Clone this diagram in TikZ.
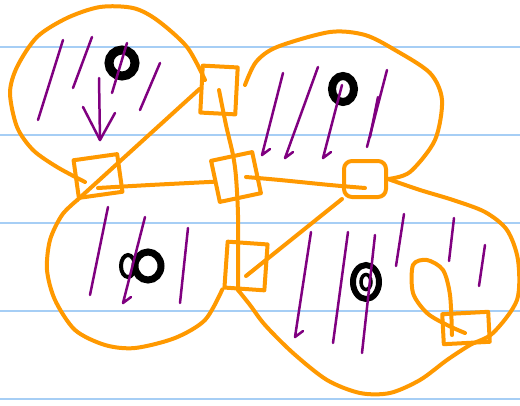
\documentclass[tikz,border=0pt]{standalone}
\usetikzlibrary{positioning}
\definecolor{oranye}{RGB}{255,153,0}
\definecolor{ungu}{RGB}{128,0,128}
\definecolor{garis}{RGB}{166,206,245}
\tikzset{
  blob/.style={draw=oranye, line width=4pt, line cap=round, line join=round},
  sepbox/.style={draw=oranye, line width=4pt, inner sep=0pt, line join=round},
  hatch/.style={draw=ungu, line width=2.5pt, line cap=round, line join=round},
  ring/.style={draw=black, line width=#1},
}
\begin{document}
\begin{tikzpicture}[x=1pt, y=-1pt]
  \useasboundingbox (0,0) rectangle (520,405);
  \fill[white] (0,0) rectangle (520,405);
  % ruled paper
  \foreach \y in {47,135,223,311,399}
    \draw[garis, line width=2pt] (0,\y) -- (520,\y);
  % separator boxes
  \node[sepbox, minimum width=35pt, minimum height=47pt, rotate=-3] (sqTop) at (219,90) {};
  \node[sepbox, minimum width=44pt, minimum height=38pt, rotate=8] (sqLeft) at (98,176) {};
  \node[sepbox, minimum width=42pt, minimum height=42pt, rotate=12] (sqMid) at (236,177) {};
  \node[sepbox, minimum width=42pt, minimum height=36pt, rounded corners=8pt] (sqRight) at (365,179) {};
  \node[sepbox, minimum width=40pt, minimum height=46pt, rotate=-4] (sqLow) at (246,266) {};
  \node[sepbox, minimum width=46pt, minimum height=30pt, rotate=3] (sqFar) at (466,328) {};
  % blob kiri atas
  \draw[blob] plot[smooth] coordinates {(205,80) (187,47) (157,20) (133,8) (100,7) (67,18)
    (37,37) (17,67) (10,93) (17,127) (33,150) (57,167) (85,182)};
  \draw[blob] (sqTop.west) -- (sqLeft.south west);
  % blob kanan atas
  \draw[blob] plot[smooth] coordinates {(245,85) (256,62) (277,47) (330,32) (365,35) (395,50)
    (430,73) (442,100) (435,140) (410,172) (sqRight.east)};
  % blob kiri bawah
  \draw[blob] plot[smooth] coordinates {(sqLeft.south west) (62,215) (50,240) (47,270) (55,300)
    (75,330) (105,345) (135,348) (175,338) (205,320) (sqLow.south west)};
  \draw[blob] plot[smooth] coordinates {([yshift=-12pt]sqLeft.center) (150,185) (sqMid.west)};
  \draw[blob] plot[smooth] coordinates {([xshift=10pt]sqMid.center) (280,180) (330,185)
    ([yshift=-9pt]sqRight.center)};
  \draw[blob] plot[smooth] coordinates {(sqTop.center) (226,125) (233,155) (sqMid.center)
    (238,215) ([xshift=-8pt]sqLow.center) (238,290)};
  % blob kanan bawah
  \draw[blob] plot[smooth] coordinates {(sqRight.east) (420,190) (453,200) (485,212) (507,230)
    (518,260) (517,300) (493,333) (470,345) (447,360) (420,380) (390,393) (360,393) (327,380)
    (293,353) (265,325) (250,305) (238,290)};
  \draw[blob] (sqRight.south west) -- ([yshift=-10pt]sqLow.center);
  \draw[blob] plot[smooth] coordinates {(452,335) (450,295) (443,270) (427,260) (413,265)
    (413,293) (427,313) (447,325) (465,333)};
  % pusat klaster
  \draw[ring=9pt] (122,63) ellipse (13pt and 13pt);
  \draw[ring=8pt] (343,89) ellipse (11pt and 13pt);
  \draw[ring=7pt] (148,266) ellipse (13pt and 14pt);
  \draw[ring=4pt] (128,266) ellipse (7pt and 11pt);
  \draw[ring=6pt] (366,282) ellipse (13pt and 17pt);
  \draw[ring=3.5pt] (366,282) ellipse (5pt and 7.5pt);
  % arsiran ungu
  \foreach \a/\b/\c/\d in {63/40/38/120, 92/37/73/88, 127/43/112/93, 160/63/140/110, 99/78/100/140,
      387/70/367/147, 378/97/370/137, 108/207/90/295, 188/228/180/303, 348/232/333/343,
      375/235/362/353, 404/214/396/266, 454/218/449/261, 485/245/479/286}
    \draw[hatch] (\a,\b) -- (\c,\d);
  \foreach \a/\b/\c/\d in {283/73/262/155, 318/67/285/158, 342/85/323/158, 145/217/123/303,
      311/232/295/337}
    \draw[hatch] (\a,\b) -- (\c,\d) -- ++(8,-6);
  \draw[hatch] (83,107) -- (100,140) -- (115,113);
\end{tikzpicture}
\end{document}
